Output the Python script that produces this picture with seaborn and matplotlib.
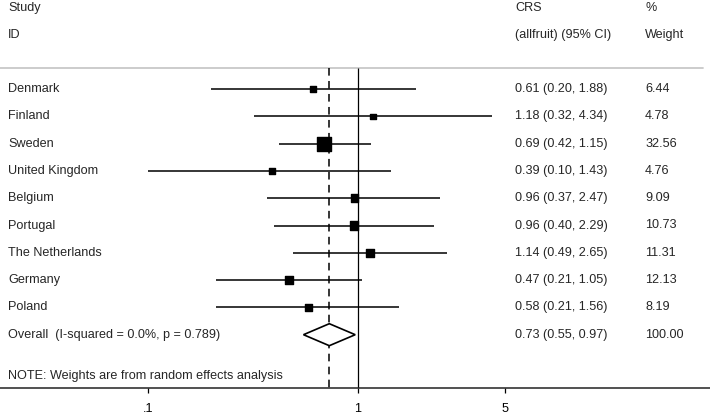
import numpy as np
import pandas as pd
import matplotlib
matplotlib.use("Agg")
import matplotlib.pyplot as plt
import matplotlib.transforms as mtransforms
from matplotlib.patches import Polygon
import seaborn as sns

studies = ["Denmark", "Finland", "Sweden", "United Kingdom", "Belgium",
           "Portugal", "The Netherlands", "Germany", "Poland"]
est = [0.61, 1.18, 0.69, 0.39, 0.96, 0.96, 1.14, 0.47, 0.58]
lo = [0.20, 0.32, 0.42, 0.10, 0.37, 0.40, 0.49, 0.21, 0.21]
hi = [1.88, 4.34, 1.15, 1.43, 2.47, 2.29, 2.65, 1.05, 1.56]
weights = [6.44, 4.78, 32.56, 4.76, 9.09, 10.73, 11.31, 12.13, 8.19]
overall_label = "Overall  (I-squared = 0.0%, p = 0.789)"
overall_est, overall_lo, overall_hi, overall_w = 0.73, 0.55, 0.97, 100.00
tick_vals = [0.1, 1, 5]
tick_labels = [".1", "1", "5"]
note = "NOTE: Weights are from random effects analysis"

sns.set_style("white")
plt.rcParams["font.family"] = ["Liberation Sans", "DejaVu Sans"]
FS = 9.1

df = pd.DataFrame({"study": studies, "est": est, "lo": lo, "hi": hi,
                   "w": weights, "row": np.arange(len(studies))})

W, H = 710, 416
fig = plt.figure(figsize=(W / 100, H / 100), dpi=100)
ax_bottom_px = 388
ax = fig.add_axes([0, (H - ax_bottom_px) / H, 1, ax_bottom_px / H])
ax.set_xscale("log")
# 210 px per decade, x=1 at 358 px
ppd = 210.0
x0 = 10 ** (-358 / ppd)
x1 = 10 ** ((W - 358) / ppd)
ax.set_xlim(x0, x1)
row_px0, row_step = 89.0, 27.3
ax.set_ylim((ax_bottom_px - row_px0) / row_step, -row_px0 / row_step)

# CI lines
ax.hlines(df["row"], df["lo"], df["hi"], color="black", lw=1.1, zorder=3)
# squares sized by weight (area proportional)
k = 3.14
sns.scatterplot(data=df, x="est", y="row", size="w", sizes=(k * min(weights), k * max(weights)),
                size_norm=(min(weights), max(weights)), marker="s", color="black",
                edgecolor="black", linewidth=1.0, legend=False, ax=ax, zorder=4)

n = len(studies)
ov_row = n
gray_row = (67.5 - row_px0) / row_step
bottom_row = ax.get_ylim()[0]
# reference lines
ax.vlines(1, gray_row, bottom_row, color="black", lw=0.9, zorder=2)
ax.vlines(overall_est, gray_row, bottom_row, color="black", lw=1.1,
          linestyles=(0, (5, 3.5)), zorder=2)
# diamond
dh = 11 / row_step
diamond = Polygon([[overall_lo, ov_row], [overall_est, ov_row - dh],
                   [overall_hi, ov_row], [overall_est, ov_row + dh]],
                  closed=True, facecolor="white", edgecolor="black", lw=1.2, zorder=5)
ax.add_patch(diamond)
trans = mtransforms.blended_transform_factory(ax.transAxes, ax.transData)
# gray header line
ax.plot([0, 703 / W], [gray_row, gray_row], transform=trans, color="#c8c8c8", lw=1.3, zorder=1)

xs_id, xs_ci, xs_w = 8 / W, 515 / W, 645 / W
hdr1, hdr2 = -81 / row_step, -54 / row_step
ax.text(xs_id, hdr1, "Study", transform=trans, fontsize=FS, va="center", ha="left")
ax.text(xs_id, hdr2, "ID", transform=trans, fontsize=FS, va="center", ha="left")
ax.text(xs_ci, hdr1, "CRS", transform=trans, fontsize=FS, va="center", ha="left")
ax.text(xs_ci, hdr2, "(allfruit) (95% CI)", transform=trans, fontsize=FS, va="center", ha="left")
ax.text(xs_w, hdr1, "%", transform=trans, fontsize=FS, va="center", ha="left")
ax.text(xs_w, hdr2, "Weight", transform=trans, fontsize=FS, va="center", ha="left")

for i, r in df.iterrows():
    ax.text(xs_id, r["row"], r["study"], transform=trans, fontsize=FS, va="center", ha="left")
    ax.text(xs_ci, r["row"], f"{r['est']:.2f} ({r['lo']:.2f}, {r['hi']:.2f})", transform=trans,
            fontsize=FS, va="center", ha="left")
    ax.text(xs_w, r["row"], f"{r['w']:.2f}", transform=trans, fontsize=FS, va="center", ha="left")

ax.text(xs_id, ov_row, overall_label, transform=trans, fontsize=FS, va="center", ha="left")
ax.text(xs_ci, ov_row, f"{overall_est:.2f} ({overall_lo:.2f}, {overall_hi:.2f})", transform=trans,
        fontsize=FS, va="center", ha="left")
ax.text(xs_w, ov_row, f"{overall_w:.2f}", transform=trans, fontsize=FS, va="center", ha="left")
ax.text(xs_id, ov_row + 1.5, note, transform=trans, fontsize=FS, va="center", ha="left")

for s in ["top", "left", "right"]:
    ax.spines[s].set_visible(False)
ax.spines["bottom"].set_color("#222222")
ax.spines["bottom"].set_linewidth(1.1)
ax.set_xticks(tick_vals)
ax.set_xticklabels(tick_labels, fontsize=FS)
ax.xaxis.set_minor_locator(matplotlib.ticker.NullLocator())
ax.tick_params(axis="x", direction="out", length=3.5, width=0.9, pad=7.5, bottom=True, colors="black")
ax.set_yticks([])
ax.set_xlabel("")
ax.set_ylabel("")

fig.savefig("out.png", dpi=100)
